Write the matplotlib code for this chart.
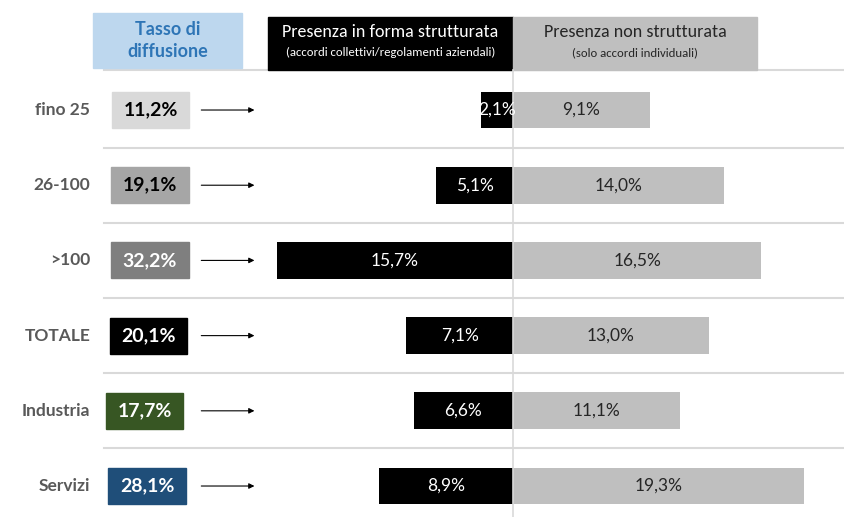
import matplotlib.pyplot as plt
from matplotlib.patches import Rectangle

plt.rcParams['font.family'] = ['Lato', 'DejaVu Sans']
NARROW = ['Carlito', 'DejaVu Sans']

# data
categories = ['fino 25', '26-100', '>100', 'TOTALE', 'Industria', 'Servizi']
diffusione = [11.2, 19.1, 32.2, 20.1, 17.7, 28.1]
strutturata = [2.1, 5.1, 15.7, 7.1, 6.6, 8.9]
non_strutturata = [9.1, 14.0, 16.5, 13.0, 11.1, 19.3]
box_colors = ['#d9d9d9', '#a6a6a6', '#7f7f7f', '#000000', '#375623', '#1f4e79']
box_text = ['#000000', '#000000', '#ffffff', '#ffffff', '#ffffff', '#ffffff']


def fmt(v):
    return f'{v:.1f}%'.replace('.', ',')


fig = plt.figure(figsize=(8.44, 5.17), dpi=100)
ax = fig.add_axes([0, 0, 1, 1])
# 0 at x=513px, ~15.05 px per percentage point; rows 75.2 px apart
ax.set_xlim(-34.09, 21.99)
ax.set_ylim(5.412, -1.463)
ax.axis('off')

ys = list(range(len(categories)))
line_c = '#d9d9d9'

# separators and center line
ax.plot([-27.2, 21.99], [-0.53, -0.53], color=line_c, lw=1.5, zorder=0)
for y in ys[:-1]:
    ax.plot([-27.2, 21.99], [y + 0.5, y + 0.5], color=line_c, lw=1.5, zorder=0)
ax.plot([0, 0], [-0.53, 5.412], color=line_c, lw=1.2, zorder=3)

# bars
ax.barh(ys, [-v for v in strutturata], height=0.49, color='black', zorder=2)
ax.barh(ys, non_strutturata, height=0.49, color='#bfbfbf', zorder=2)

for y, s, n in zip(ys, strutturata, non_strutturata):
    ax.text(-s / 2, y, fmt(s), color='white', ha='center', va='center',
            fontsize=12.5, zorder=4)
    ax.text(n / 2, y, fmt(n), color='#262626', ha='center', va='center',
            fontsize=12.5, zorder=4)

# left labels, value boxes and arrows
box_x = [-26.65, -26.7, -26.7, -26.8, -27.05, -26.9]
for y, cat, d, bc, tc, bx in zip(ys, categories, diffusione, box_colors, box_text, box_x):
    ax.text(-28.1, y, cat, ha='right', va='center', fontsize=12.5,
            fontweight='bold', color='#595959')
    ax.add_patch(Rectangle((bx, y - 0.24), 5.15, 0.48, color=bc, zorder=2))
    ax.text(bx + 2.575, y, fmt(d), ha='center', va='center', fontsize=14,
            fontweight='bold', color=tc, zorder=3)
    ax.annotate('', xy=(-17.0, y), xytext=(-20.9, y),
                arrowprops=dict(arrowstyle='-|>', color='black', lw=0.8,
                                mutation_scale=8))

# headers
ax.add_patch(Rectangle((-27.9, -1.29), 9.9, 0.73, color='#bdd7ee', zorder=2))
ax.text(-22.95, -0.925, 'Tasso di\ndiffusione', ha='center', va='center',
        fontsize=13, fontweight='bold', color='#2e75b6', linespacing=1.4,
        zorder=3)

ax.add_patch(Rectangle((-16.3, -1.237), 16.3, 0.705, color='black', zorder=2))
ax.text(-8.15, -1.04, 'Presenza in forma strutturata', ha='center', va='center',
        fontsize=13, color='white', zorder=3, family=NARROW)
ax.text(-8.15, -0.76, '(accordi collettivi/regolamenti aziendali)', ha='center',
        va='center', fontsize=9.2, color='white', zorder=3, family=NARROW)

ax.add_patch(Rectangle((0, -1.237), 16.2, 0.705, color='#bfbfbf', zorder=2))
ax.text(8.1, -1.04, 'Presenza non strutturata', ha='center', va='center',
        fontsize=13, color='#262626', zorder=3, family=NARROW)
ax.text(8.1, -0.76, '(solo accordi individuali)', ha='center', va='center',
        fontsize=9.2, color='#262626', zorder=3, family=NARROW)

fig.savefig('out.png', dpi=100)
